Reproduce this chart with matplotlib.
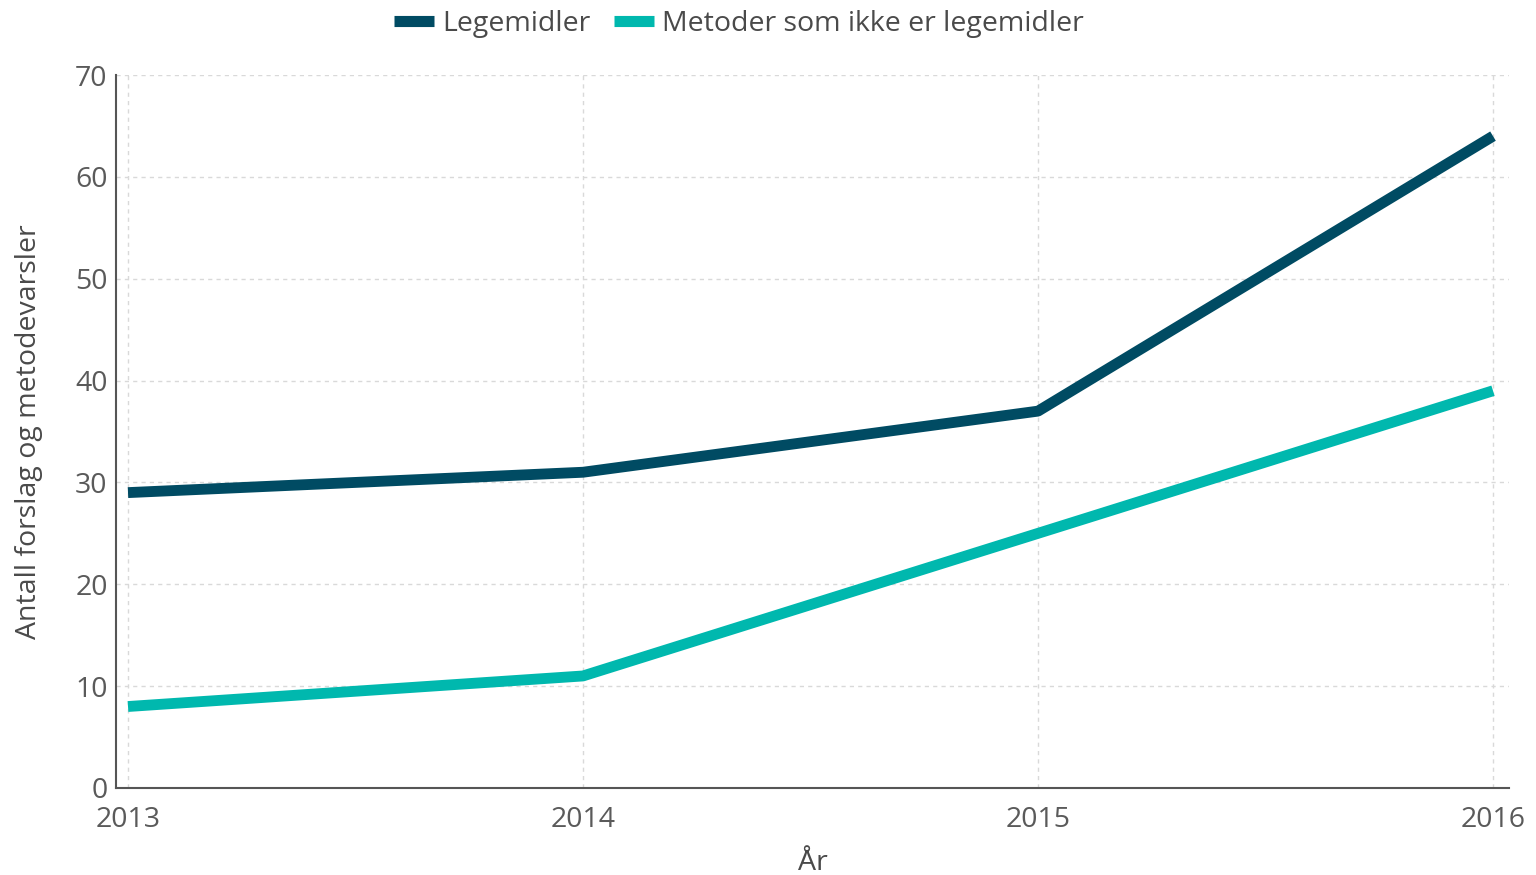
import matplotlib
matplotlib.use("Agg")
import matplotlib.pyplot as plt
from matplotlib.lines import Line2D

years = [2013, 2014, 2015, 2016]
legemidler = [29, 31, 37, 64]
metoder = [8, 11, 25, 39]
series_names = ["Legemidler", "Metoder som ikke er legemidler"]
colors = ["#004b63", "#00b8ae"]
yticks = [0, 10, 20, 30, 40, 50, 60, 70]

plt.rcParams['font.family'] = ['Open Sans', 'DejaVu Sans']

fig = plt.figure(figsize=(15.36, 8.75), dpi=100)
ax = fig.add_axes([116/1536, 1 - 788/875, (1509-116)/1536, (788-75)/875])

ax.plot(years, legemidler, color=colors[0], lw=7.8, solid_capstyle='butt', zorder=3)
ax.plot(years, metoder, color=colors[1], lw=7.8, solid_capstyle='butt', zorder=3)

ax.set_xlim(2013 - 12*3/1365, 2016 + 16*3/1365)
ax.set_ylim(0, 70)
ax.set_xticks(years)
ax.set_xticklabels([str(y) for y in years])
ax.set_yticks(yticks)

ax.grid(True, color='#d9d9d9', linestyle=(0, (3, 3)), lw=1)
ax.set_axisbelow(True)
for s in ['top', 'right']:
    ax.spines[s].set_visible(False)
for s in ['left', 'bottom']:
    ax.spines[s].set_color('#555555')
    ax.spines[s].set_linewidth(1.5)

ax.tick_params(axis='both', length=0, labelsize=20.5, labelcolor='#5a5a5a')
ax.tick_params(axis='x', pad=13)
ax.tick_params(axis='y', pad=6)

ax.set_xlabel("År", fontsize=20.5, color='#4a4a4a', labelpad=11)
ax.set_ylabel("Antall forslag og metodevarsler", fontsize=20.5, color='#4a4a4a', labelpad=23)

handles = [Line2D([0], [0], color=c, lw=8, solid_capstyle='butt') for c in colors]
fig.legend(handles, series_names, loc='center', bbox_to_anchor=(739/1536, 1 - 24/875),
           ncol=2, frameon=False, fontsize=20.5, labelcolor='#4a4a4a',
           handlelength=1.4, handletextpad=0.3, columnspacing=0.8)

fig.savefig("out.png", dpi=100)
